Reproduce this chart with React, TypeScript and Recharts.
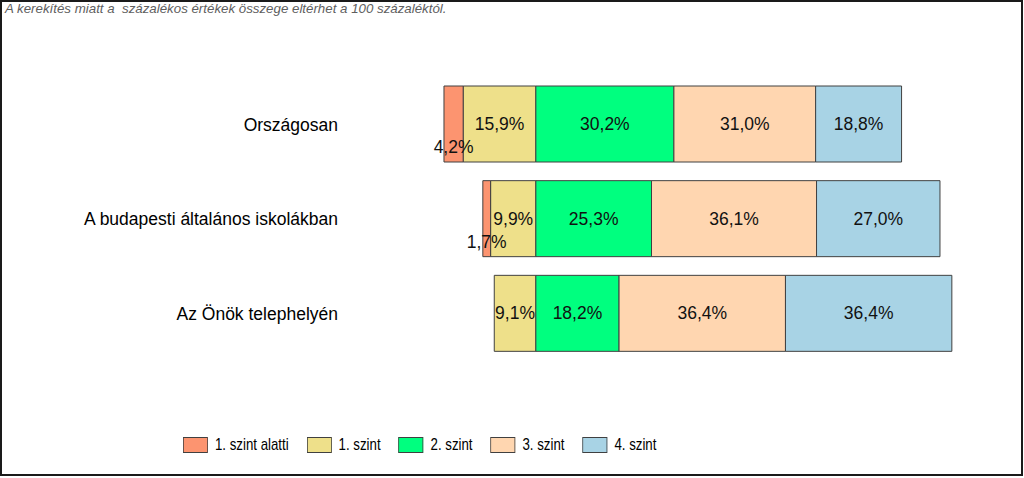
import { Bar, BarChart, LabelList, XAxis, YAxis } from 'recharts';

const categories = ['Országosan', 'A budapesti általános iskolákban', 'Az Önök telephelyén'];
const below1 = [4.2, 1.7, 0];
const level1 = [15.9, 9.9, 9.1];
const level2 = [30.2, 25.3, 18.2];
const level3 = [31.0, 36.1, 36.4];
const level4 = [18.8, 27.0, 36.4];

const FONT = '"Liberation Sans", Arial, sans-serif';

// legend order as in the picture
const series = [
  { key: 'below1', name: '1. szint alatti', color: '#FC9470' },
  { key: 'level1', name: '1. szint', color: '#EEE08A' },
  { key: 'level2', name: '2. szint', color: '#00FF7F' },
  { key: 'level3', name: '3. szint', color: '#FFD6B0' },
  { key: 'level4', name: '4. szint', color: '#A8D3E5' },
];

// left-hand levels are negative so they grow left from the 1./2. szint border
const data = categories.map((name, i) => ({
  name,
  below1: -below1[i],
  level1: -level1[i],
  level2: level2[i],
  level3: level3[i],
  level4: level4[i],
}));

const fmt = (v: number) => Math.abs(v).toFixed(1).replace('.', ',') + '%';

const makeLabel = (dy: number) => (props: any) => {
  const { x, y, width, height, value } = props;
  if (!value) return null;
  return (
    <text
      x={x + width / 2}
      y={y + height / 2 + dy}
      textAnchor="middle"
      dominantBaseline="central"
      fontSize={17.5}
      fontFamily={FONT}
      fill="#111"
    >
      {fmt(value)}
    </text>
  );
};

// stacking order: closest to zero first
const stackOrder = ['level1', 'below1', 'level2', 'level3', 'level4'];

export default function App() {
  return (
    <div style={{ position: 'absolute', left: 0, top: 0, width: 1024, height: 478, background: '#fff', fontFamily: FONT }}>
      <div style={{ position: 'absolute', left: 0, top: 0, width: 1019, height: 472, border: '2px solid #1a1a1a' }} />
      <div style={{ position: 'absolute', left: 5, top: 1, fontSize: 13.3, lineHeight: '16px', fontStyle: 'italic', color: '#5e5e5e', whiteSpace: 'pre' }}>
        A kerekítés miatt a  százalékos értékek összege eltérhet a 100 százaléktól.
      </div>
      <div style={{ position: 'absolute', left: 0, top: 0 }}>
        <BarChart
          width={1024}
          height={478}
          data={data}
          layout="vertical"
          stackOffset="sign"
          barSize={76}
          margin={{ top: 77, right: 31, bottom: 117, left: 0 }}
        >
          <XAxis type="number" domain={[-40, 100]} hide allowDataOverflow />
          <YAxis
            type="category"
            dataKey="name"
            width={353}
            axisLine={false}
            tickLine={false}
            tickSize={0}
            tickMargin={15}
            tick={{ fontSize: 17.5, fill: '#000', fontFamily: FONT }}
          />
          {stackOrder.map(k => {
            const s = series.find(x => x.key === k)!;
            return (
              <Bar
                key={k}
                dataKey={k}
                name={s.name}
                stackId="a"
                fill={s.color}
                stroke="#404040"
                strokeWidth={1}
                isAnimationActive={false}
              >
                <LabelList dataKey={k} content={makeLabel(k === 'below1' ? 23 : 0)} />
              </Bar>
            );
          })}
        </BarChart>
      </div>
      {/* legend text in the original is narrow, so squeeze the whole row horizontally */}
      <div
        style={{
          position: 'absolute', left: 183, top: 436, display: 'flex', alignItems: 'center',
          fontSize: 17, color: '#000', transform: 'scaleX(0.78)', transformOrigin: 'left center', whiteSpace: 'nowrap',
        }}
      >
        {series.map(s => (
          <div key={s.key} style={{ display: 'flex', alignItems: 'center', marginRight: 23 }}>
            <div style={{ width: 30, height: 14, background: s.color, border: '1px solid #404040', marginRight: 9 }} />
            <span style={{ lineHeight: '18px' }}>{s.name}</span>
          </div>
        ))}
      </div>
    </div>
  );
}
